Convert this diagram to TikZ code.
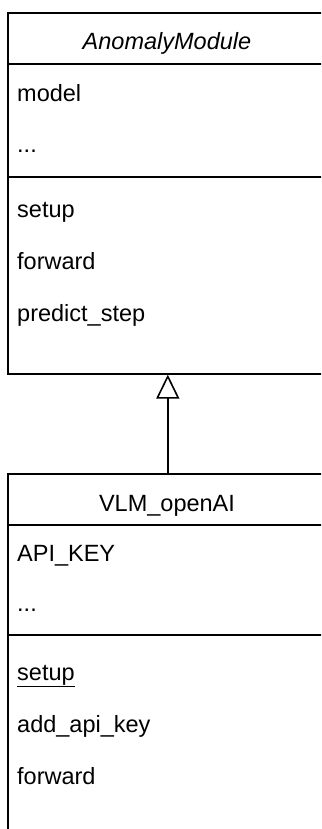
\documentclass[tikz,border=0pt]{standalone}
\usepackage{fontspec}
\setmainfont{Liberation Sans}
\usetikzlibrary{arrows.meta}
\tikzset{
  x=1pt, y=1pt,
  umlbox/.style={draw=black, line width=1.6pt, fill=white, anchor=north west, minimum width=320pt, inner sep=0pt},
  sep/.style={draw=black, line width=1.6pt},
  member/.style={anchor=base west, inner sep=0pt, font=\fontsize{23.5}{28}\selectfont},
  title/.style={anchor=base, inner sep=0pt, font=\fontsize{23.5}{28}\selectfont},
  inherit/.style={draw=black, line width=1.6pt, -{Triangle[open, length=24pt, width=23pt, fill=white]}}
}
\begin{document}
\begin{tikzpicture}
\useasboundingbox (0,0) rectangle (321,-829);
\clip (0,0) rectangle (321,-829);
\fill[white] (0,0) rectangle (321,-829);
% parent class
\node[umlbox, minimum height=361pt] (A) at (7,-12) {};
\coordinate (a1) at (7,-64);
\coordinate (a2) at (7,-177);
\draw[sep] (a1) -- ++(320,0);
\draw[sep] (a2) -- ++(320,0);
\node[title] (atitle) at (167,-50) {\itshape AnomalyModule};
\node[member] (amodel) at (17,-102) {model};
\node[member] (adots) at (17,-153) {...};
\node[member] (asetup) at (17,-217) {setup};
\node[member] (afwd) at (17,-269) {forward};
\node[member] (apred) at (17,-321) {predict\_step};
% child class
\node[umlbox, minimum height=420pt] (B) at (7,-473) {};
\coordinate (b1) at (7,-525);
\coordinate (b2) at (7,-635);
\draw[sep] (b1) -- ++(320,0);
\draw[sep] (b2) -- ++(320,0);
\node[title] (btitle) at (167,-511) {VLM\_openAI};
\node[member] (bkey) at (17,-561) {API\_KEY};
\node[member] (bdots) at (17,-611) {...};
\node[member] (bsetup) at (17,-680) {\underline{setup}};
\node[member] (badd) at (17,-732) {add\_api\_key};
\node[member] (bfwd) at (17,-784) {forward};
% generalization
\draw[inherit] (B.north) -- (A.south);
\end{tikzpicture}
\end{document}
